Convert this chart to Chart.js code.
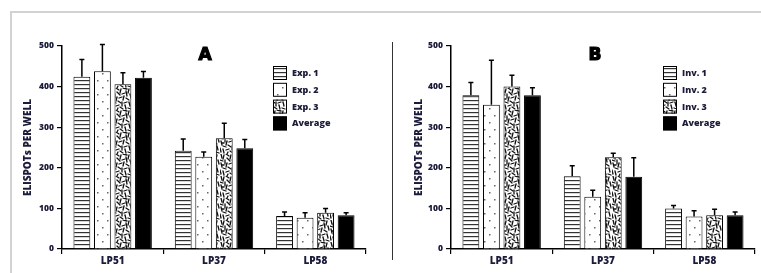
<!DOCTYPE html>
<html>
<head>
<meta charset="utf-8">
<script src="https://cdn.jsdelivr.net/npm/chart.js@4.4.0/dist/chart.umd.min.js"></script>
<style>
html, body { margin: 0; padding: 0; background: #fff; }
body { width: 761px; height: 273px; position: relative; overflow: hidden; }
#frame { position: absolute; left: 10px; top: 11px; width: 800px; height: 300px;
  border-left: 2px solid #d2d2d2; border-top: 2px solid #d2d2d2; }
#divider { position: absolute; left: 392px; top: 42px; width: 1px; height: 218px; background: #333; }
.panel { position: absolute; top: 0; height: 273px; }
</style>
</head>
<body>
<div id="frame"></div>
<div id="divider"></div>
<div class="panel" style="left:0;width:390px"><canvas id="chartA"></canvas></div>
<div class="panel" style="left:392px;width:369px"><canvas id="chartB"></canvas></div>
<script>
// ---- data ----
var categories = ['LP51', 'LP37', 'LP58'];
var yTicks = [0, 100, 200, 300, 400, 500];

var labelsA = ['Exp. 1', 'Exp. 2', 'Exp. 3', 'Average'];
var exp1 = [424, 242, 81];
var exp1Err = [43, 29, 10];
var exp2 = [438, 227, 77];
var exp2Err = [66, 12, 12];
var exp3 = [406, 273, 89];
var exp3Err = [28, 37, 11];
var avgA = [422, 248, 83];
var avgAErr = [15, 22, 6];

var labelsB = ['Inv. 1', 'Inv. 2', 'Inv. 3', 'Average'];
var inv1 = [379, 179, 100];
var inv1Err = [31, 26, 7];
var inv2 = [355, 129, 80];
var inv2Err = [110, 16, 14];
var inv3 = [400, 226, 83];
var inv3Err = [28, 10, 15];
var avgB = [379, 178, 83];
var avgBErr = [18, 47, 8];

var textColor = '#1b1b3a';
var fontFamily = 'Open Sans';

// ---- fill patterns ----
function makeTile(w, h, draw) {
  var c = document.createElement('canvas');
  c.width = w; c.height = h;
  var g = c.getContext('2d');
  g.fillStyle = '#fff';
  g.fillRect(0, 0, w, h);
  draw(g);
  return document.createElement('canvas').getContext('2d').createPattern(c, 'repeat');
}

var stripes = makeTile(8, 4, function(g) {
  g.fillStyle = '#333';
  g.fillRect(0, 0, 8, 1.2);
});

var dots = makeTile(10, 14, function(g) {
  g.fillStyle = '#666';
  g.fillRect(2, 3, 1.5, 1.5);
  g.fillRect(7, 10, 1.5, 1.5);
});

// hand-drawn scribble texture, a 22x22 tile of short strokes
var squiggle = makeTile(22, 22, function(g) {
  var segs = [
    [1, 0, 2, 4], [4, 1, 3, 5], [6, 0, 9, 2], [11, 1, 10, 5], [13, 0, 17, 1],
    [19, 1, 18, 5], [0, 6, 3, 7], [5, 6, 5, 10], [7, 4, 10, 7], [12, 6, 15, 5],
    [16, 3, 17, 8], [20, 6, 21, 10], [1, 9, 2, 13], [7, 9, 6, 13], [9, 10, 12, 9],
    [14, 8, 13, 12], [16, 10, 19, 12], [3, 14, 6, 15], [8, 13, 11, 15], [0, 16, 1, 20],
    [12, 14, 12, 18], [14, 15, 17, 14], [19, 14, 20, 18], [3, 17, 4, 21], [6, 18, 9, 17],
    [10, 19, 13, 21], [15, 17, 16, 21], [18, 20, 21, 21], [8, 20, 7, 22], [2, 11, 4, 11]
  ];
  g.strokeStyle = '#111';
  g.lineWidth = 1.3;
  g.lineCap = 'round';
  segs.forEach(function(s) {
    g.beginPath(); g.moveTo(s[0], s[1]); g.lineTo(s[2], s[3]); g.stroke();
  });
});

var fills = [stripes, dots, squiggle, '#000'];

// ---- plugins ----
var errorBars = {
  id: 'errorBars',
  afterDatasetsDraw: function(chart) {
    var ctx = chart.ctx, y = chart.scales.y;
    ctx.save();
    ctx.strokeStyle = '#000';
    ctx.lineWidth = 1.5;
    chart.data.datasets.forEach(function(ds, i) {
      var meta = chart.getDatasetMeta(i);
      meta.data.forEach(function(bar, j) {
        var top = y.getPixelForValue(ds.data[j] + ds.errors[j]);
        ctx.beginPath();
        ctx.moveTo(bar.x, bar.y);
        ctx.lineTo(bar.x, top);
        ctx.moveTo(bar.x - 2.5, top);
        ctx.lineTo(bar.x + 2.5, top);
        ctx.stroke();
      });
    });
    ctx.restore();
  }
};

var panelDecor = {
  id: 'panelDecor',
  afterDraw: function(chart, args, opts) {
    var ctx = chart.ctx;
    ctx.save();
    ctx.fillStyle = '#000';
    ctx.strokeStyle = '#000';
    ctx.lineWidth = 1.2;
    ctx.font = 'bold 17px "DejaVu Sans"';
    ctx.textAlign = 'center';
    ctx.textBaseline = 'middle';
    ctx.fillText(opts.letter, opts.letterX, opts.letterY);
    ctx.strokeText(opts.letter, opts.letterX, opts.letterY);

    ctx.font = '800 9px "' + fontFamily + '"';
    ctx.textAlign = 'left';
    chart.data.datasets.forEach(function(ds, i) {
      var by = opts.legendY + i * 16.8;
      ctx.fillStyle = ds.backgroundColor;
      ctx.fillRect(opts.legendX, by, 14, 14);
      ctx.strokeStyle = '#000';
      ctx.lineWidth = 1;
      ctx.strokeRect(opts.legendX + 0.5, by + 0.5, 13, 13);
      ctx.fillStyle = textColor;
      ctx.fillText(ds.label, opts.legendX + 19, by + 7.5);
    });
    ctx.restore();
  }
};

function makeDatasets(labels, series, errors) {
  return series.map(function(s, i) {
    return {
      label: labels[i],
      data: s,
      errors: errors[i],
      backgroundColor: fills[i],
      borderColor: '#000',
      borderWidth: 1,
      categoryPercentage: 0.81,
      barPercentage: 0.82
    };
  });
}

function buildChart(id, datasets, decor, axisWidth, titlePad, padRight) {
  return new Chart(document.getElementById(id), {
    type: 'bar',
    data: { labels: categories, datasets: datasets },
    plugins: [errorBars, panelDecor],
    options: {
      responsive: true,
      maintainAspectRatio: false,
      animation: false,
      layout: { padding: { top: 46, right: padRight, bottom: 0, left: 0 } },
      plugins: {
        legend: { display: false },
        tooltip: { enabled: false },
        panelDecor: decor
      },
      scales: {
        x: {
          offset: true,
          grid: { offset: true, drawOnChartArea: false, tickLength: 5, color: '#000', lineWidth: 1.2 },
          border: { color: '#000', width: 1.5 },
          ticks: { color: textColor, font: { family: fontFamily, size: 10, weight: '800' }, padding: 1 },
          afterFit: function(scale) { scale.height = 24; }
        },
        y: {
          min: 0,
          max: 500,
          afterBuildTicks: function(scale) {
            scale.ticks = yTicks.map(function(v) { return { value: v }; });
          },
          grid: { drawOnChartArea: false, tickLength: 5, color: '#000', lineWidth: 1.2 },
          border: { color: '#000', width: 1.5 },
          ticks: { color: textColor, font: { family: fontFamily, size: 8.5, weight: '800' }, padding: 3 },
          title: {
            display: true,
            text: 'ELISPOTs PER WELL',
            color: textColor,
            font: { family: fontFamily, size: 10, weight: '800' },
            padding: { top: titlePad, bottom: 0 }
          },
          afterFit: function(scale) { scale.width = axisWidth; }
        }
      }
    }
  });
}

buildChart('chartA',
  makeDatasets(labelsA, [exp1, exp2, exp3, avgA], [exp1Err, exp2Err, exp3Err, avgAErr]),
  { letter: 'A', letterX: 205, letterY: 56, legendX: 273, legendY: 66 },
  62, 22, 24);

buildChart('chartB',
  makeDatasets(labelsB, [inv1, inv2, inv3, avgB], [inv1Err, inv2Err, inv3Err, avgBErr]),
  { letter: 'B', letterX: 203, letterY: 56, legendX: 271, legendY: 66 },
  59, 21, 6);
</script>
</body>
</html>
